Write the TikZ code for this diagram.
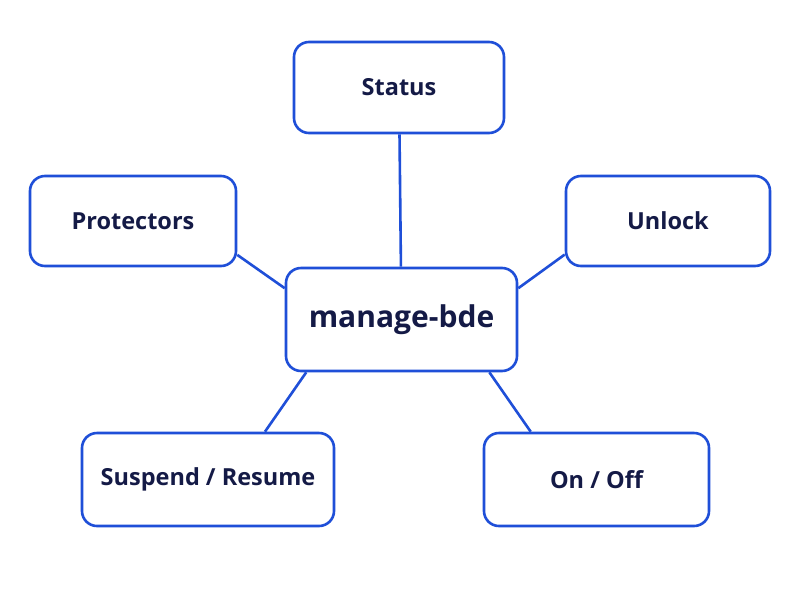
\documentclass[tikz,border=0pt]{standalone}
\usepackage{fontspec}
\setmainfont{Open Sans}
\usetikzlibrary{positioning}
\definecolor{bdeblue}{HTML}{1F4FD8}
\definecolor{navy}{HTML}{141A46}
\tikzset{
  box/.style={rectangle, rounded corners=15pt, draw=bdeblue, line width=2.6pt, fill=white,
    minimum width=206pt, minimum height=90pt, inner sep=0pt, align=center,
    font=\fontsize{23.5}{28}\selectfont\bfseries, text=navy},
  hub/.style={box, minimum width=231pt, minimum height=103pt, font=\fontsize{30}{36}\selectfont\bfseries},
  link/.style={line width=2.6pt, bdeblue},
}
\begin{document}
\begin{tikzpicture}[x=1pt, y=-1pt]
\useasboundingbox[fill=white] (0,0) rectangle (800,600);
\node[hub] (bde) at (401.5,319.5) {manage-bde};
\node[box, minimum width=210pt, minimum height=91pt] (status) at (399,87.5) {Status};
\node[box] (prot) at (133,221) {Protectors};
\node[box, minimum width=204pt] (unlock) at (668,221) {Unlock};
\node[box, minimum width=252pt, minimum height=93pt] (susp) at (208,479.5) {Suspend / Resume};
\node[box, minimum width=225pt, minimum height=93pt] (onoff) at (596.5,479.5) {On / Off};
\draw[link] (status) -- (bde);
\draw[link] (prot.342) -- (bde.165);
\draw[link] (unlock.198) -- (bde.15);
\draw[link] (susp.40) -- (bde.209);
\draw[link] (onoff.144) -- (bde.329);
\end{tikzpicture}
\end{document}
